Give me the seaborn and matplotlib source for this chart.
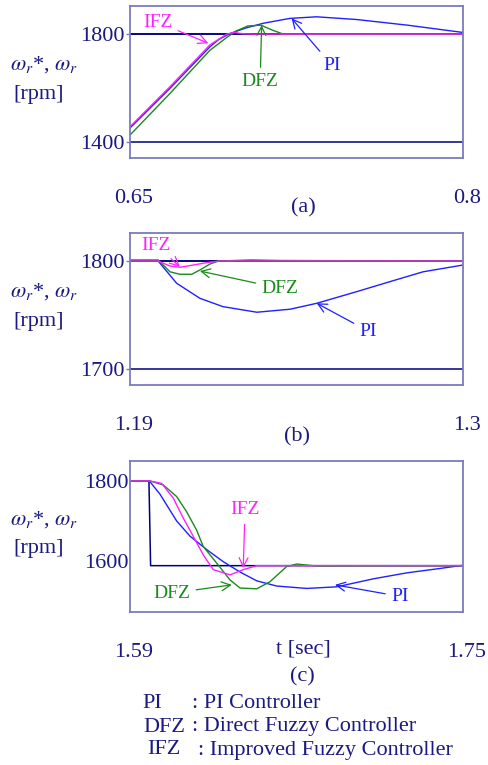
import pandas as pd
import matplotlib
matplotlib.use("Agg")
import matplotlib.pyplot as plt
from matplotlib.transforms import ScaledTranslation
import seaborn as sns

# ---- panel (a): speed build-up, 0.65 .. 0.8 s ----
a_t_ref = [0.65, 0.80]
a_ref = [1800, 1800]
a_t_pi = [0.65, 0.668, 0.686, 0.690, 0.695, 0.702, 0.710, 0.722, 0.734, 0.752, 0.775, 0.80]
a_pi = [1452, 1599, 1753, 1780, 1802, 1822, 1840, 1858, 1864, 1854, 1833, 1806]
a_t_dfz = [0.65, 0.668, 0.686, 0.694, 0.698, 0.703, 0.709, 0.714, 0.719, 0.80]
a_dfz = [1426, 1580, 1740, 1790, 1812, 1830, 1833, 1815, 1800, 1800]
a_t_ifz = [0.65, 0.668, 0.686, 0.6936, 0.697, 0.701, 0.706, 0.80]
a_ifz = [1457, 1605, 1760, 1800, 1806, 1801, 1800, 1800]

# ---- panel (b): load disturbance, 1.19 .. 1.3 s ----
b_t_ref = [1.19, 1.30]
b_ref = [1800, 1800]
b_t_pi = [1.19, 1.1993, 1.2054, 1.2131, 1.2207, 1.2319, 1.2429, 1.2517, 1.2649, 1.2759, 1.2868, 1.30]
b_pi = [1800, 1800, 1779.4, 1765.4, 1757.7, 1752.5, 1755.3, 1760.8, 1771.6, 1780.9, 1790.0, 1796.3]
b_t_dfz = [1.19, 1.1993, 1.2032, 1.2065, 1.2104, 1.2131, 1.2164, 1.2192, 1.2300, 1.2400, 1.30]
b_dfz = [1801, 1801, 1790, 1787.7, 1787.7, 1791.7, 1797.2, 1800, 1801, 1800.5, 1800]
b_t_ifz = [1.19, 1.1993, 1.2032, 1.2065, 1.2109, 1.2153, 1.2197, 1.30]
b_ifz = [1800, 1800, 1795.4, 1794.2, 1796.3, 1798.5, 1800, 1800]

# ---- panel (c): speed step down, 1.59 .. 1.75 s ----
c_t_ref = [1.59, 1.5991, 1.5999, 1.75]
c_ref = [1800, 1800, 1588, 1588]
c_t_pi = [1.59, 1.5993, 1.6044, 1.6124, 1.6188, 1.6269, 1.6348, 1.6429, 1.6509, 1.6605,
          1.6749, 1.6893, 1.7069, 1.7230, 1.7390, 1.75]
c_pi = [1800, 1800, 1767, 1700, 1662, 1628, 1598, 1572, 1550, 1537,
        1531, 1535, 1555, 1570, 1581, 1589]
c_t_dfz = [1.59, 1.5996, 1.6060, 1.6124, 1.6172, 1.6220, 1.6252, 1.6317, 1.6381, 1.6429,
           1.6509, 1.6573, 1.6653, 1.6701, 1.6797, 1.75]
c_dfz = [1800, 1800, 1790, 1761, 1723, 1677, 1636, 1594, 1552, 1532,
         1530, 1548, 1586, 1592, 1587, 1588]
c_t_ifz = [1.59, 1.5996, 1.6052, 1.6108, 1.6156, 1.6196, 1.6252, 1.6300, 1.6381, 1.6444, 1.6509, 1.75]
c_ifz = [1800, 1800, 1794, 1757, 1707, 1669, 1615, 1578, 1565, 1578, 1588, 1588]

legend_rows = [("PI", ": PI Controller"),
               ("DFZ", ": Direct Fuzzy Controller"),
               ("IFZ", ": Improved Fuzzy Controller")]

# colours
navy = "#1a1a80"
frame = "#7b7bc0"
ref_col = "#00007a"
pi_col = "#2020ff"
dfz_col = "#1a8a1a"
ifz_col = "#ff20ff"

sns.set_style("white")
plt.rcParams["font.family"] = ["Liberation Serif", "DejaVu Serif"]
plt.rcParams["mathtext.fontset"] = "stix"

W, H = 488, 765
fig = plt.figure(figsize=(W / 100, H / 100), dpi=100)


def box(top, bottom, left=130, right=463):
    return [left / W, 1 - bottom / H, (right - left) / W, (bottom - top) / H]


def ftext(x, y, s, **kw):
    kw.setdefault("color", navy)
    kw.setdefault("fontsize", 16)
    kw.setdefault("va", "center")
    fig.text(x / W, 1 - y / H, s, **kw)


def draw_panel(ax, ref, series, xlim, ylim, yticks, grid, ticklen):
    sns.lineplot(x=ref[0], y=ref[1], ax=ax, color=ref_col, lw=1.1, sort=False, estimator=None)
    for t, v, col in series:
        sns.lineplot(x=t, y=v, ax=ax, color=col, lw=1.0, sort=False, estimator=None)
    ax.set_xlim(*xlim)
    ax.set_ylim(*ylim)
    ax.set_xticks(list(xlim))
    ax.set_xticklabels([f"{xlim[0]:g}", f"{xlim[1]:g}"])
    ax.set_yticks(yticks)
    ax.set_yticklabels([str(v) for v in yticks])
    ax.tick_params(axis="x", length=0, pad=22, labelsize=16, labelcolor=navy)
    ax.tick_params(axis="y", length=ticklen, width=1, color=frame, pad=1,
                   labelsize=16, labelcolor=navy, left=True)
    # the time labels sit a few pixels right of the frame edges
    shift = ScaledTranslation(4 / 100, 0, fig.dpi_scale_trans)
    for lbl in ax.get_xticklabels():
        lbl.set_transform(lbl.get_transform() + shift)
    ax.set_xlabel("")
    ax.set_ylabel("")
    if grid:
        ax.yaxis.grid(True, color=ref_col, lw=1.1)
    for sp in ax.spines.values():
        sp.set_color(frame)
        sp.set_linewidth(1.3)


def label(ax, s, col, xytext, xy):
    ax.annotate(s, xy=xy, xytext=xytext, textcoords="data", color=col, fontsize=14,
                ha="center", va="center", annotation_clip=False,
                arrowprops=dict(arrowstyle="->", color=col, lw=0.9, mutation_scale=16,
                                shrinkA=2, shrinkB=0))


ax_a = fig.add_axes(box(6, 158))
draw_panel(ax_a, (a_t_ref, a_ref),
           [(a_t_pi, a_pi, pi_col), (a_t_dfz, a_dfz, dfz_col), (a_t_ifz, a_ifz, ifz_col)],
           (0.65, 0.8), (1341, 1904), [1400, 1800], True, 3)
label(ax_a, "IFZ", ifz_col, (0.6624, 1844), (0.6853, 1766))
label(ax_a, "DFZ", dfz_col, (0.7086, 1623), (0.7093, 1833))
label(ax_a, "PI", pi_col, (0.7409, 1685), (0.7228, 1858))

ax_b = fig.add_axes(box(233, 385))
draw_panel(ax_b, (b_t_ref, b_ref),
           [(b_t_pi, b_pi, pi_col), (b_t_dfz, b_dfz, dfz_col), (b_t_ifz, b_ifz, ifz_col)],
           (1.19, 1.3), (1685, 1826), [1700, 1800], True, 3)
label(ax_b, "IFZ", ifz_col, (1.1985, 1814.8), (1.2065, 1794.7))
label(ax_b, "DFZ", dfz_col, (1.2396, 1774.7), (1.2131, 1790.7))
label(ax_b, "PI", pi_col, (1.2687, 1735), (1.2517, 1760.8))

ax_c = fig.add_axes(box(461, 612))
draw_panel(ax_c, (c_t_ref, c_ref),
           [(c_t_pi, c_pi, pi_col), (c_t_dfz, c_dfz, dfz_col), (c_t_ifz, c_ifz, ifz_col)],
           (1.59, 1.75), (1472, 1850), [1600, 1800], False, 0)
label(ax_c, "IFZ", ifz_col, (1.6453, 1727.5), (1.6444, 1582))
label(ax_c, "DFZ", dfz_col, (1.6100, 1519), (1.6389, 1540))
label(ax_c, "PI", pi_col, (1.7197, 1511), (1.6885, 1540))

# y-axis captions
for top in (6, 233, 461):
    ftext(10, top + 59, r"$\omega_r$*, $\omega_r$", ha="left")
    ftext(13, top + 88, "[rpm]", ha="left")

ftext(303, 208, "(a)", ha="center")
ftext(297, 437, "(b)", ha="center")
ftext(303, 649, "t [sec]", ha="center")
ftext(302, 677, "(c)", ha="center")

# controller key
for (abbr, desc), y, xa, xd in zip(legend_rows, (704, 727, 750), (142, 143, 147), (192, 192, 198)):
    ftext(xa, y, abbr, ha="left")
    ftext(xd, y, desc, ha="left")

fig.savefig("out.png", dpi=100, facecolor="white")
